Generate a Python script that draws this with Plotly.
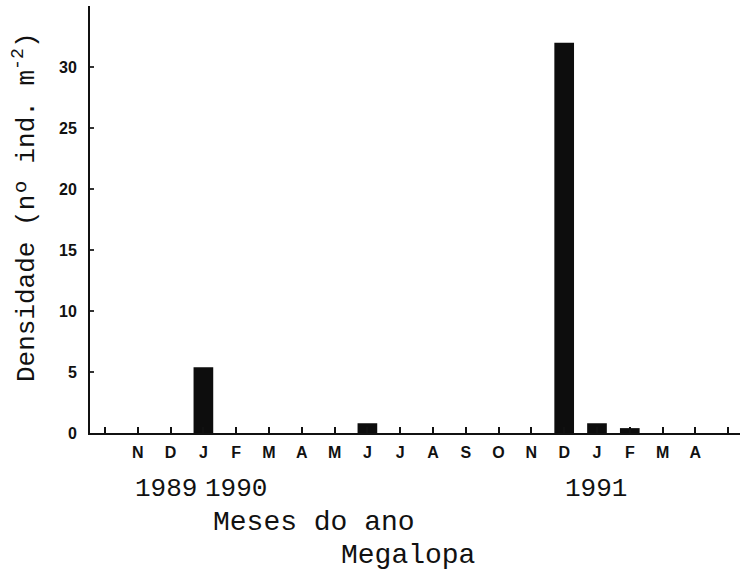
import plotly.graph_objects as go

# Data
month_labels = ["", "N", "D", "J", "F", "M", "A", "M", "J", "J", "A", "S", "O",
                "N", "D", "J", "F", "M", "A", ""]
density = [0, 0, 0, 5.4, 0, 0, 0, 0, 0.8, 0, 0, 0, 0, 0, 32.0, 0.8, 0.4, 0, 0, 0]
y_ticks = [0, 5, 10, 15, 20, 25, 30, 35]
years = ["1989", "1990", "1991"]

positions = list(range(len(month_labels)))

fig = go.Figure()
fig.add_trace(go.Bar(
    x=positions, y=density, width=0.6,
    marker=dict(color="#0d0d0d", line=dict(width=0)),
))

mono = "Liberation Mono, Courier New, monospace"
sans = "Liberation Sans, Arial, sans-serif"

fig.update_layout(
    width=740, height=574,
    margin=dict(l=90, r=0, t=6, b=141),
    paper_bgcolor="white", plot_bgcolor="white",
    showlegend=False,
    bargap=0.4,
    xaxis=dict(
        range=[-0.457, 19.36],
        tickmode="array", tickvals=positions, ticktext=month_labels,
        ticks="inside", ticklen=6, tickwidth=2, tickcolor="#111",
        showline=True, linecolor="#111", linewidth=2,
        showgrid=False, zeroline=False,
        tickfont=dict(family=sans, size=16, color="#111", weight="bold"),
        ticklabelstandoff=4,
    ),
    yaxis=dict(
        range=[0, 35.02],
        tickmode="array", tickvals=y_ticks,
        ticks="inside", ticklen=4, tickwidth=1.5, tickcolor="#333",
        showline=True, linecolor="#111", linewidth=2,
        showgrid=False, zeroline=False,
        tickfont=dict(family=sans, size=16, color="#111", weight="bold"),
        ticklabelstandoff=8,
    ),
)

def px_x(px):
    return (px - 90) / 650.0

def px_y(py):
    return (433 - py) / 427.0

year_px = [166, 236, 596]
for label, xp in zip(years, year_px):
    fig.add_annotation(text=label, xref="paper", yref="paper",
                       x=px_x(xp), y=px_y(489), showarrow=False,
                       xanchor="center", yanchor="middle",
                       font=dict(family=mono, size=26, color="#111"))

fig.add_annotation(text="Meses do ano", xref="paper", yref="paper",
                   x=px_x(314), y=px_y(522), showarrow=False,
                   xanchor="center", yanchor="middle",
                   font=dict(family=mono, size=28, color="#111"))
fig.add_annotation(text="Megalopa", xref="paper", yref="paper",
                   x=px_x(408), y=px_y(555), showarrow=False,
                   xanchor="center", yanchor="middle",
                   font=dict(family=mono, size=28, color="#111"))
fig.add_annotation(text="Densidade (nº ind. m<sup>-2</sup>)", xref="paper", yref="paper",
                   x=px_x(25), y=px_y(207), showarrow=False, textangle=-90,
                   xanchor="center", yanchor="middle",
                   font=dict(family=mono, size=26, color="#111"))

fig.write_html("out.html", config={"displayModeBar": False},
               post_script="document.body.style.margin='0';")
